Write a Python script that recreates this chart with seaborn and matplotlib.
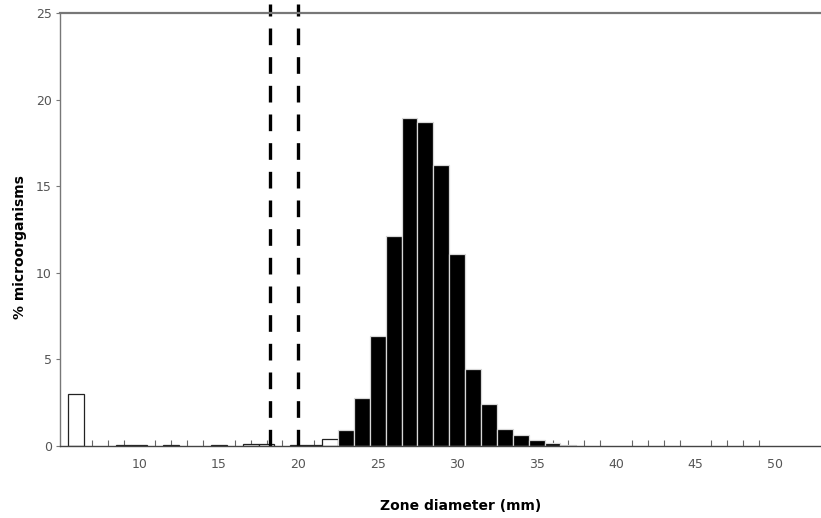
import numpy as np
import pandas as pd
import matplotlib
matplotlib.use("Agg")
import matplotlib.pyplot as plt
from matplotlib.ticker import FixedLocator
import seaborn as sns

# ---- data ----
low_diameters = [6, 9, 10, 12, 15, 17, 18, 20, 21, 22]
low_percent = [3.0, 0.06, 0.06, 0.06, 0.08, 0.12, 0.10, 0.08, 0.08, 0.42]

high_diameters = [23, 24, 25, 26, 27, 28, 29, 30, 31, 32, 33, 34, 35, 36, 37]
high_percent = [0.95, 2.78, 6.34, 12.15, 18.95, 18.7, 16.2, 11.1, 4.42, 2.4,
                1.0, 0.66, 0.32, 0.15, 0.08]

breakpoints = [18.2, 20.0]
x_ticks = [10, 15, 20, 25, 30, 35, 40, 45, 50]
y_ticks = [0, 5, 10, 15, 20, 25]
minor_marks = list(range(7, 50))

sns.set_theme(style="white")
plt.rcParams["font.family"] = ["DejaVu Sans"]

fig = plt.figure(figsize=(8.21, 5.18), dpi=100)
ax = fig.add_axes([60 / 821, 72 / 518, 761 / 821, 433 / 518])

low_df = pd.DataFrame({"d": low_diameters, "p": low_percent})
high_df = pd.DataFrame({"d": high_diameters, "p": high_percent})

sns.barplot(data=low_df, x="d", y="p", native_scale=True, width=1.0,
            color="white", edgecolor="#222222", linewidth=0.9,
            saturation=1, ax=ax, errorbar=None)
sns.barplot(data=high_df, x="d", y="p", native_scale=True, width=1.0,
            color="black", edgecolor="#d8d8d8", linewidth=0.9,
            saturation=1, ax=ax, errorbar=None)

for bp in breakpoints:
    ax.axvline(bp, color="black", linestyle=(0, (5, 3.6)), linewidth=2.4,
               ymin=0, ymax=1.02, clip_on=False)

ax.set_xlim(5, 52.9)
ax.set_ylim(0, 25)
ax.set_xticks(x_ticks)
ax.set_xticklabels([str(t) for t in x_ticks])
ax.set_yticks(y_ticks)
ax.set_yticklabels([str(t) for t in y_ticks])
ax.xaxis.set_minor_locator(FixedLocator(minor_marks))

ax.tick_params(axis="x", which="major", bottom=False, labelsize=9,
               labelcolor="#555555", pad=3)
ax.tick_params(axis="x", which="minor", bottom=True, direction="in",
               length=4, width=0.8, color="#666666")
ax.tick_params(axis="y", which="major", left=True, direction="out",
               length=3, width=0.8, color="#777777", labelsize=9,
               labelcolor="#555555", pad=3)

ax.spines["right"].set_visible(False)
ax.spines["left"].set_color("#777777")
ax.spines["left"].set_linewidth(1.0)
ax.spines["top"].set_color("#777777")
ax.spines["top"].set_linewidth(1.6)
ax.spines["bottom"].set_color("#444444")
ax.spines["bottom"].set_linewidth(1.0)

ax.set_xlabel("Zone diameter (mm)", fontsize=10, fontweight="bold",
              color="black")
ax.set_ylabel("% microorganisms", fontsize=10, fontweight="bold",
              color="black")
ax.xaxis.set_label_coords(0.526, -0.122)
ax.yaxis.set_label_coords(-0.043, 0.46)

fig.savefig("out.png", dpi=100, facecolor="white")
